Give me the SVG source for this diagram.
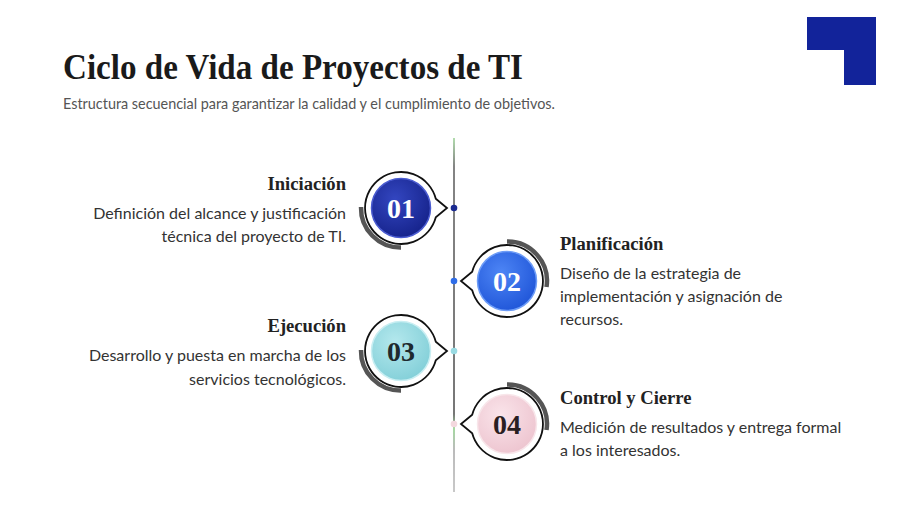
<svg xmlns="http://www.w3.org/2000/svg" width="900" height="506" viewBox="0 0 900 506">
<defs>
<style>
.title{font-family:"Liberation Serif","DejaVu Serif",serif;font-weight:bold;font-size:35px;fill:#1a1a1a}
.sub{font-family:"Lato","Liberation Sans",sans-serif;font-size:14.4px;fill:#555}
.head{font-family:"Liberation Serif","DejaVu Serif",serif;font-weight:bold;font-size:18.6px;fill:#222}
.body{font-family:"Lato","Liberation Sans",sans-serif;font-size:16px;fill:#333}
.num{font-family:"Liberation Serif","DejaVu Serif",serif;font-weight:bold;font-size:28px;text-anchor:middle}
.bubble{fill:#fff;stroke:#111;stroke-width:1.8;stroke-linejoin:miter}
.arc{fill:none;stroke:#555;stroke-width:4.5}
.rim{stroke-width:1.5}
</style>
<radialGradient id="g1" cx="40%" cy="35%" r="70%"><stop offset="0" stop-color="#3346c0"/><stop offset="1" stop-color="#15228a"/></radialGradient>
<radialGradient id="g2" cx="40%" cy="35%" r="70%"><stop offset="0" stop-color="#4d85f5"/><stop offset="1" stop-color="#1f55d8"/></radialGradient>
<radialGradient id="g3" cx="40%" cy="35%" r="70%"><stop offset="0" stop-color="#b4e8ed"/><stop offset="1" stop-color="#82cfd8"/></radialGradient>
<radialGradient id="g4" cx="40%" cy="35%" r="70%"><stop offset="0" stop-color="#fae4ea"/><stop offset="1" stop-color="#edc4cf"/></radialGradient>
<linearGradient id="lg" gradientUnits="userSpaceOnUse" x1="0" y1="138" x2="0" y2="492">
<stop offset="0" stop-color="#9fd49a"/><stop offset="0.08" stop-color="#666"/><stop offset="0.78" stop-color="#555"/><stop offset="0.82" stop-color="#8fd08a"/><stop offset="0.88" stop-color="#aaa"/><stop offset="1" stop-color="#bbb"/>
</linearGradient>
</defs>
<rect width="900" height="506" fill="#fff"/>
<polygon points="807,17 876,17 876,85 844,85 844,50 807,50" fill="#12239a"/>
<text class="title" x="63" y="79" textLength="460" lengthAdjust="spacingAndGlyphs">Ciclo de Vida de Proyectos de TI</text>
<text class="sub" x="63" y="109">Estructura secuencial para garantizar la calidad y el cumplimiento de objetivos.</text>
<g id="connectors">
<rect x="453.2" y="138" width="1.6" height="354" fill="url(#lg)"/>
<circle cx="454" cy="208" r="3.3" fill="#1a2a90"/>
<circle cx="454" cy="281" r="3.3" fill="#2f6de8"/>
<circle cx="454" cy="351" r="3.3" fill="#9adbe3"/>
<circle cx="454" cy="424" r="3.3" fill="#f3d8de"/>
</g>
<g id="step1">
<path class="arc" d="M361,207 A39.5 39.5 0 0 0 401,247.5"/>
<path class="bubble" d="M435.8,198.7 L447,208 L435.8,217.3 A36 36 0 1 1 435.8,198.7 Z"/>
<circle cx="401" cy="208" r="29.5" fill="url(#g1)" class="rim" stroke="#4a5bd0"/>
<text class="num" x="401" y="217.5" fill="#fff">01</text>
<text class="head" x="346" y="190" text-anchor="end">Iniciación</text>
<text class="body" x="346" y="219" text-anchor="end">Definición del alcance y justificación</text>
<text class="body" x="346" y="242" text-anchor="end">técnica del proyecto de TI.</text>
</g>
<g id="step2">
<path class="arc" d="M507,241.5 A39.5 39.5 0 0 1 546.5,287"/>
<path class="bubble" d="M472.2,271.7 L461,281 L472.2,290.3 A36 36 0 1 0 472.2,271.7 Z"/>
<circle cx="507" cy="281" r="29.5" fill="url(#g2)" class="rim" stroke="#6d9cf7"/>
<text class="num" x="507" y="290.5" fill="#fff">02</text>
<text class="head" x="560" y="250">Planificación</text>
<text class="body" x="560" y="279">Diseño de la estrategia de</text>
<text class="body" x="560" y="302">implementación y asignación de</text>
<text class="body" x="560" y="325">recursos.</text>
</g>
<g id="step3">
<path class="arc" d="M361,350 A39.5 39.5 0 0 0 401,390.5"/>
<path class="bubble" d="M435.8,341.7 L447,351 L435.8,360.3 A36 36 0 1 1 435.8,341.7 Z"/>
<circle cx="401" cy="351" r="29.5" fill="url(#g3)" class="rim" stroke="#c8eef2"/>
<text class="num" x="401" y="360.5" fill="#1e2a2e">03</text>
<text class="head" x="346" y="332" text-anchor="end">Ejecución</text>
<text class="body" x="346" y="361" text-anchor="end">Desarrollo y puesta en marcha de los</text>
<text class="body" x="346" y="385" text-anchor="end">servicios tecnológicos.</text>
</g>
<g id="step4">
<path class="arc" d="M507,384.5 A39.5 39.5 0 0 1 546.5,430"/>
<path class="bubble" d="M472.2,414.7 L461,424 L472.2,433.3 A36 36 0 1 0 472.2,414.7 Z"/>
<circle cx="507" cy="424" r="29.5" fill="url(#g4)" class="rim" stroke="#f8e6ea"/>
<text class="num" x="507" y="433.5" fill="#2a1e22">04</text>
<text class="head" x="560" y="404">Control y Cierre</text>
<text class="body" x="560" y="433">Medición de resultados y entrega formal</text>
<text class="body" x="560" y="456">a los interesados.</text>
</g>
</svg>
